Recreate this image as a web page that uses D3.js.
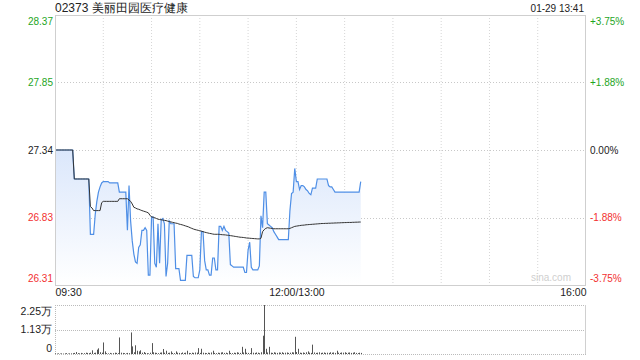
<!DOCTYPE html>
<html><head><meta charset="utf-8">
<script src="https://cdn.jsdelivr.net/npm/d3@7/dist/d3.min.js"></script>
<style>
html,body{margin:0;padding:0;background:#fff;}
svg{display:block;font-family:"Liberation Sans",Arial,sans-serif;}
</style></head>
<body><svg id="c" width="640" height="360"></svg>
<script>
const title = "02373 美丽田园医疗健康";
const stamp = "01-29 13:41";
const prevClose = 27.34;
const priceTicks = [28.37, 27.85, 27.34, 26.83, 26.31];
const priceTickValues = [28.365, 27.854, 27.34, 26.826, 26.315];
const pctTicks = ["+3.75%", "+1.88%", "0.00%", "-1.88%", "-3.75%"];
const timeTicks = [0, 150, 330];
const timeLabels = ["09:30", "12:00/13:00", "16:00"];
const volTicks = [0, 11250, 22500];
const volLabels = ["0", "1.13万", "2.25万"];
const totalMinutes = 330;

const price = [
27.34,27.34,27.34,27.34,27.34,27.34,27.34,27.34,27.34,27.34,
27.34,27.34,27.12,27.12,27.12,27.12,27.12,27.12,27.12,27.12,
27.12,27.12,26.70,26.70,26.70,26.85,26.95,27.02,27.06,27.09,
27.10,27.10,27.10,27.10,27.09,27.09,27.09,27.09,27.09,27.09,
27.02,27.02,27.02,27.02,27.02,26.73,27.07,26.80,26.65,26.55,
26.49,26.48,26.60,26.62,26.73,26.73,26.75,26.73,26.39,26.39,
26.83,26.83,26.48,26.45,26.78,26.48,26.81,26.82,26.78,26.38,
26.48,26.80,26.78,26.78,26.78,26.44,26.44,26.44,26.35,26.35,
26.35,26.35,26.54,26.54,26.54,26.54,26.38,26.37,26.37,26.37,
26.43,26.72,26.72,26.50,26.43,26.43,26.39,26.39,26.52,26.52,
26.43,26.43,26.76,26.76,26.73,26.76,26.73,26.72,26.71,26.47,
26.46,26.45,26.45,26.45,26.45,26.45,26.45,26.45,26.41,26.41,
26.58,26.64,26.45,26.43,26.43,26.43,26.43,26.46,26.84,26.75,
27.02,27.02,26.78,26.77,26.76,26.75,26.72,26.70,26.68,26.66,
26.66,26.66,26.66,26.66,26.66,26.66,26.88,27.01,27.02,27.20,
27.10,27.10,27.04,27.07,27.07,27.06,27.04,27.03,27.01,27.00,
27.05,27.05,27.05,27.12,27.12,27.12,27.12,27.12,27.12,27.12,
27.07,27.06,27.06,27.04,27.02,27.02,27.02,27.02,27.02,27.02,
27.02,27.02,27.02,27.02,27.02,27.02,27.02,27.02,27.02,27.02,
27.10];

const avgPrice = [
27.34,27.34,27.34,27.34,27.34,27.34,27.34,27.34,27.34,27.34,
27.34,27.34,27.12,27.12,27.12,27.12,27.12,27.12,27.12,27.12,
27.12,27.12,26.91,26.90,26.88,26.88,26.88,26.88,26.88,26.94,
26.95,26.95,26.95,26.95,26.95,26.95,26.95,26.95,26.95,26.95,
26.97,26.97,26.97,26.97,26.97,26.97,26.96,26.95,26.93,26.905,
26.90,26.893,26.89,26.885,26.88,26.876,26.872,26.868,26.863,26.845,
26.832,26.83,26.826,26.82,26.815,26.812,26.81,26.808,26.806,26.804,
26.80,26.797,26.794,26.791,26.788,26.785,26.783,26.778,26.775,26.772,
26.768,26.764,26.76,26.756,26.75,26.745,26.74,26.736,26.733,26.73,
26.727,26.724,26.72,26.716,26.713,26.71,26.707,26.705,26.702,26.70,
26.70,26.70,26.70,26.698,26.697,26.696,26.695,26.693,26.692,26.69,
26.688,26.686,26.684,26.682,26.68,26.678,26.677,26.676,26.674,26.672,
26.671,26.67,26.669,26.668,26.667,26.666,26.665,26.665,26.67,26.72,
26.735,26.745,26.75,26.748,26.746,26.744,26.742,26.742,26.742,26.742,
26.742,26.742,26.742,26.742,26.742,26.742,26.745,26.75,26.755,26.76,
26.762,26.764,26.766,26.768,26.769,26.77,26.772,26.773,26.774,26.775,
26.776,26.777,26.778,26.779,26.78,26.781,26.782,26.782,26.783,26.783,
26.784,26.784,26.785,26.785,26.786,26.786,26.787,26.787,26.788,26.788,
26.789,26.789,26.79,26.79,26.79,26.791,26.791,26.792,26.792,26.793,
26.793];

const volume = [
300,200,300,200,300,200,300,400,200,300,
300,400,500,900,400,300,500,300,400,600,
500,400,600,1700,500,600,2000,2600,800,600,
5300,1200,400,300,500,300,400,600,500,400,
7600,600,500,400,300,500,400,9900,3500,800,
4000,1500,1200,1700,600,900,500,400,300,600,
5000,800,600,500,400,600,700,2300,600,1500,
500,600,1200,500,400,1200,600,500,400,700,
500,600,1500,500,400,600,500,700,600,2700,
500,2400,600,500,400,600,500,700,1500,500,
400,600,500,700,800,500,600,400,1500,500,
400,600,500,800,600,500,3300,700,2400,600,
500,400,2700,600,500,700,600,400,800,8400,
22500,2400,700,3300,600,500,800,600,500,700,
600,800,500,600,700,500,600,800,700,7900,
900,2400,600,500,700,500,800,1200,600,500,
4300,700,500,600,800,500,600,700,500,600,
500,800,600,700,500,1500,600,500,700,600,
800,500,600,700,500,600,800,500,400,600,
500];

const svg = d3.select("#c");
const L = 55, R = 586, T = 15, B = 285, VT = 305, VB = 354;
const green = "#1ea51e", red = "#f23030", dark = "#222";
const colorFor = v => v > prevClose + 1e-6 ? green : (v < prevClose - 1e-6 ? red : dark);

const x = d3.scaleLinear().domain([0, totalMinutes]).range([L, R]);
const y = d3.scaleLinear().domain([priceTickValues[4], priceTickValues[0]]).range([B, T]);
const yv = d3.scaleLinear().domain([0, d3.max(volume)]).range([VB, VT]);

// gradient
const defs = svg.append("defs");
const g = defs.append("linearGradient").attr("id","fill").attr("gradientUnits","userSpaceOnUse")
  .attr("x1",0).attr("x2",0).attr("y1",y(prevClose)).attr("y2",B);
g.append("stop").attr("offset","0").attr("stop-color","#dbe7fb");
g.append("stop").attr("offset","1").attr("stop-color","#ffffff");

// grid
const gridV = d3.range(30, totalMinutes, 30);
svg.append("g").selectAll("line").data(gridV).join("line")
  .attr("x1", d => x(d)).attr("x2", d => x(d)).attr("y1", T).attr("y2", B)
  .attr("stroke", "#d6d6d6").attr("stroke-dasharray", "1,2");
svg.append("g").selectAll("line").data(priceTickValues.slice(1,4)).join("line")
  .attr("x1", L).attr("x2", R).attr("y1", d => Math.round(y(d))+0.5).attr("y2", d => Math.round(y(d))+0.5)
  .attr("stroke", "#c8c8c8").attr("stroke-dasharray", "1,2");

// area + lines
const idx = d3.range(price.length);
svg.append("path").datum(idx)
  .attr("d", d3.area().x(i => x(i)).y0(B).y1(i => y(price[i])))
  .attr("fill", "url(#fill)");
svg.append("path").datum(idx)
  .attr("d", d3.line().x(i => x(i)).y(i => y(price[i])))
  .attr("fill", "none").attr("stroke", "#4f8fe6").attr("stroke-width", 1.2);
svg.append("path").datum(idx)
  .attr("d", d3.line().x(i => x(i)).y(i => y(avgPrice[i])))
  .attr("fill", "none").attr("stroke", "#333").attr("stroke-width", 1);

// main border
svg.append("rect").attr("x", L+0.5).attr("y", T+0.5).attr("width", R-L-1).attr("height", B-T)
  .attr("fill","none").attr("stroke","#cfcfcf");

// watermark
svg.append("text").attr("x", 571).attr("y", 281).attr("text-anchor","end")
  .attr("font-size", 10).attr("fill","#cfcfcf").text("sina.com");

// left axis
const ax = svg.append("g").attr("transform", `translate(${L-2},0)`)
  .call(d3.axisLeft(y).tickValues(priceTickValues).tickSize(0).tickPadding(0)
    .tickFormat((d,i) => priceTicks[i].toFixed(2)));
ax.select(".domain").remove();
ax.selectAll("text").attr("font-size", 10).attr("font-family", "Liberation Sans, Arial, sans-serif")
  .attr("fill", (d,i) => colorFor(priceTicks[i]))
  .attr("dy", (d,i) => i === 0 ? "0.9em" : (i === 4 ? "-0.35em" : "0.32em"));

// right axis
const ar = svg.append("g").attr("transform", `translate(${R+4},0)`)
  .call(d3.axisRight(y).tickValues(priceTickValues).tickSize(0).tickPadding(0)
    .tickFormat((d,i) => pctTicks[i]));
ar.select(".domain").remove();
ar.selectAll("text").attr("font-size", 10).attr("font-family", "Liberation Sans, Arial, sans-serif")
  .attr("fill", (d,i) => colorFor(priceTicks[i]))
  .attr("dy", (d,i) => i === 0 ? "0.9em" : (i === 4 ? "-0.35em" : "0.32em"));

// bottom time axis
const at = svg.append("g").attr("transform", `translate(0,${B+4})`)
  .call(d3.axisBottom(x).tickValues(timeTicks).tickSize(0).tickPadding(0)
    .tickFormat((d,i) => timeLabels[i]));
at.select(".domain").remove();
at.selectAll("text").attr("font-size", 10.5).attr("font-family", "Liberation Sans, Arial, sans-serif")
  .attr("fill", dark)
  .attr("text-anchor", (d,i) => i === 0 ? "start" : (i === 2 ? "end" : "middle"));

// volume panel
svg.append("line").attr("x1", L).attr("x2", R).attr("y1", VT+0.5).attr("y2", VT+0.5)
  .attr("stroke","#bbb").attr("stroke-dasharray","1,1");
svg.append("line").attr("x1", L).attr("x2", R).attr("y1", Math.round(yv(11250))+0.5).attr("y2", Math.round(yv(11250))+0.5)
  .attr("stroke","#bbb").attr("stroke-dasharray","1,1");
svg.append("line").attr("x1", L).attr("x2", R).attr("y1", VB+0.5).attr("y2", VB+0.5)
  .attr("stroke","#bbb").attr("stroke-dasharray","1,1");
svg.append("line").attr("x1", L+0.5).attr("x2", L+0.5).attr("y1", VT).attr("y2", VB)
  .attr("stroke","#bbb").attr("stroke-dasharray","1,1");
svg.append("line").attr("x1", R-0.5).attr("x2", R-0.5).attr("y1", VT).attr("y2", VB)
  .attr("stroke","#d0d0d0");

svg.append("g").selectAll("rect").data(idx).join("rect")
  .attr("x", i => Math.round(x(i)))
  .attr("width", 1)
  .attr("y", i => yv(volume[i]))
  .attr("height", i => VB - yv(volume[i]))
  .attr("fill", "#555");

const av = svg.append("g").attr("transform", `translate(${L-3},0)`)
  .call(d3.axisLeft(yv).tickValues(volTicks).tickSize(0).tickPadding(0)
    .tickFormat((d,i) => volLabels[i]));
av.select(".domain").remove();
av.selectAll("text").attr("font-size", 10.5).attr("font-family", "Liberation Sans, Arial, sans-serif")
  .attr("fill", dark)
  .attr("dy", (d,i) => i === 0 ? "-0.2em" : (i === 2 ? "0.95em" : "0.32em"));

// header
svg.append("text").attr("x", L).attr("y", 11.5).attr("font-size", 12).attr("fill", dark).text(title);
svg.append("text").attr("x", R-2).attr("y", 11.5).attr("font-size", 10).attr("text-anchor","end").attr("fill", dark).text(stamp);
</script></body></html>
